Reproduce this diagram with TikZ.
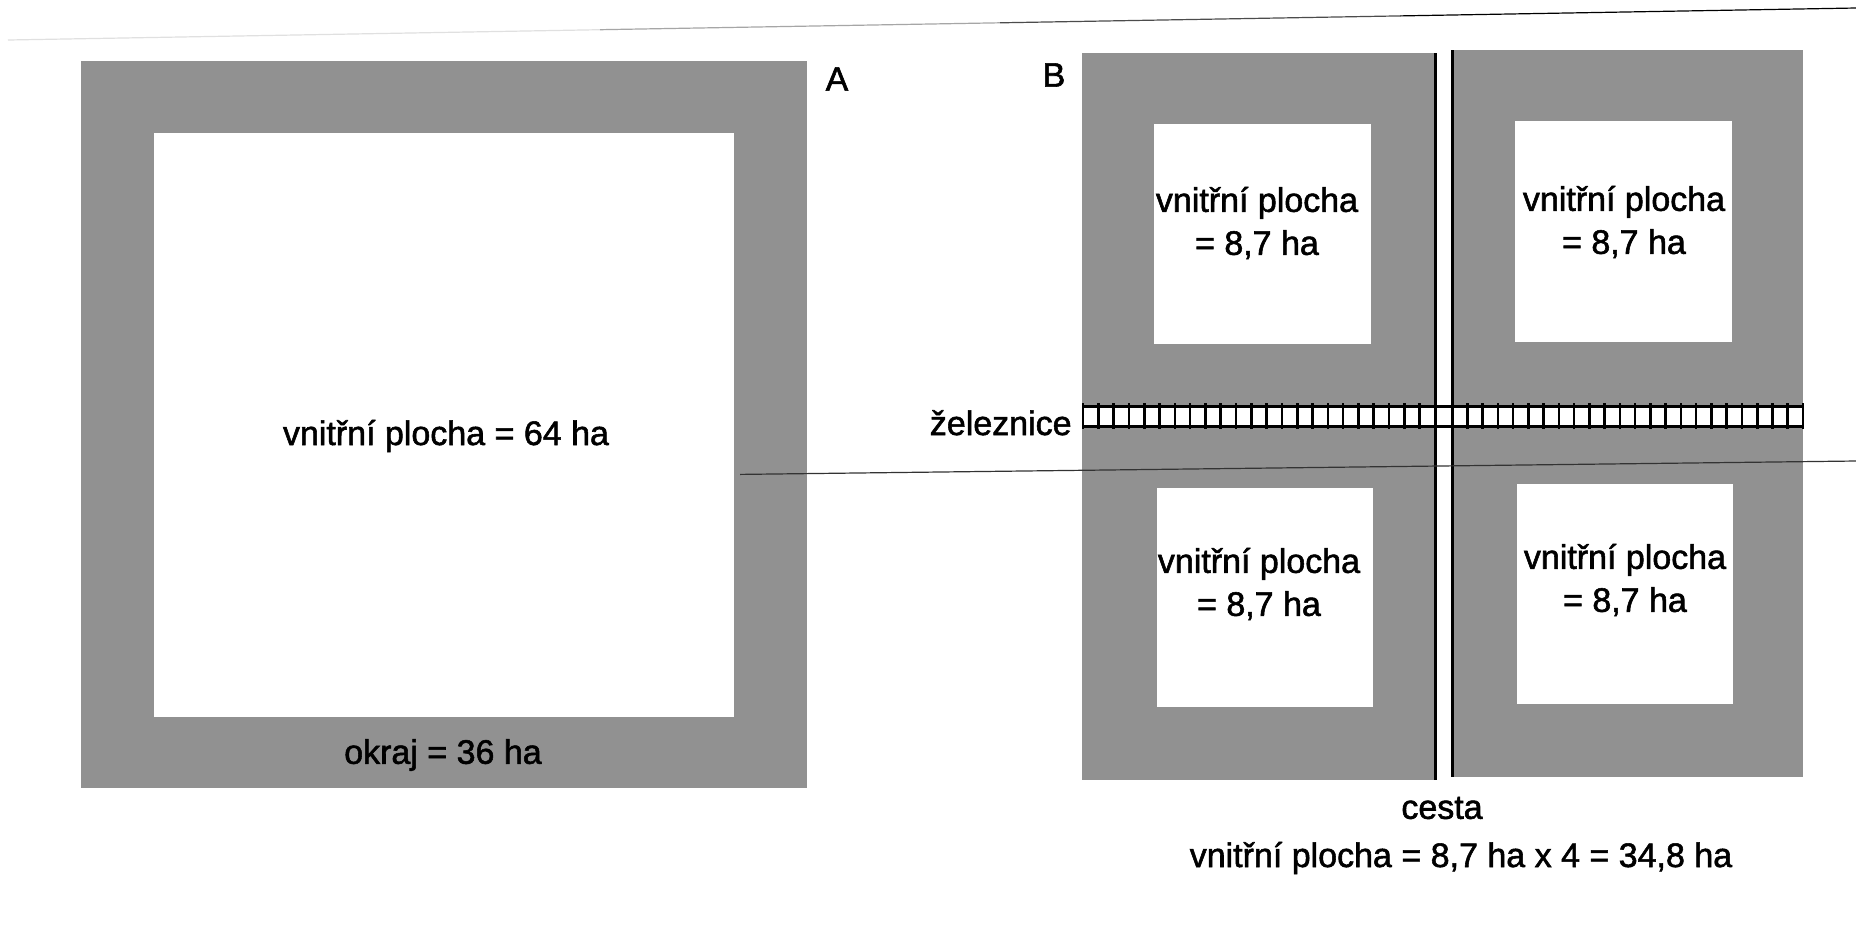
\documentclass[tikz,border=0pt]{standalone}
\usepackage{fontspec}
\setmainfont{Liberation Sans}[FakeBold=1.6]
\begin{document}
\begin{tikzpicture}[x=0.5pt,y=-0.5pt,
  field/.style={fill=black!43},
  innerfield/.style={fill=white},
  lbl/.style={font=\fontsize{17}{21.5}\selectfont, inner sep=0pt, align=center},
  railline/.style={line width=1.5pt, black},
  tie/.style={line width=1.3pt, black},
  scanedge/.style={line width=0.6pt}]
\useasboundingbox (0,0) rectangle (1856,928);
\fill[white] (0,0) rectangle (1856,928);
% scan page edges
\draw[scanedge, black!12] (8,40) -- (600,29.7);
\draw[scanedge, black!35] (600,29.7) -- (1000,22.8);
\draw[scanedge, black!70] (1000,22.8) -- (1400,15.9);
\draw[scanedge, black] (1400,15.9) -- (1856,8);
% panel A
\fill[field] (81,61) rectangle (807,788);
\fill[innerfield] (154,133) rectangle (734,717);
\node[lbl] (aInner) at (446,436) {vnitřní plocha = 64 ha};
\node[lbl] (aEdge) at (443,755) {okraj = 36 ha};
\node[lbl] (aLab) at (837,79) {A};
% panel B
\fill[field] (1082,53) rectangle (1435,780);
\fill[field] (1452,50) rectangle (1803,777);
\fill[innerfield] (1154,124) rectangle (1371,344);
\fill[innerfield] (1515,121) rectangle (1732,342);
\fill[innerfield] (1157,488) rectangle (1373,707);
\fill[innerfield] (1517,484) rectangle (1733,704);
% railway
\fill[white] (1083,406) rectangle (1803,426);
\draw[railline] (1083,406) -- (1803,406);
\draw[railline] (1083,426) -- (1803,426);
\foreach \i in {0,...,22} \draw[tie] ({1083+15.3*\i},403) -- ({1083+15.3*\i},429);
\foreach \i in {1,...,23} \draw[tie] ({1452+15.26*\i},403) -- ({1452+15.26*\i},429);
% road
\draw[railline] (1435,53) -- (1435,780);
\draw[railline] (1452,50) -- (1452,777);
% scan fold line
\draw[scanedge, black!80] (740,474.4) -- (1856,461);
% labels B
\node[lbl] (bLab) at (1054,75) {B};
\node[lbl, anchor=base east] (rail) at (1072,435) {železnice};
\node[lbl] (tl) at (1257,223) {vnitřní plocha\\= 8,7 ha};
\node[lbl] (tr) at (1624,222) {vnitřní plocha\\= 8,7 ha};
\node[lbl] (bl) at (1259,584) {vnitřní plocha\\= 8,7 ha};
\node[lbl] (br) at (1625,580) {vnitřní plocha\\= 8,7 ha};
\node[lbl] (road) at (1442,808) {cesta};
\node[lbl] (total) at (1461,858) {vnitřní plocha = 8,7 ha x 4 = 34,8 ha};
\end{tikzpicture}
\end{document}
